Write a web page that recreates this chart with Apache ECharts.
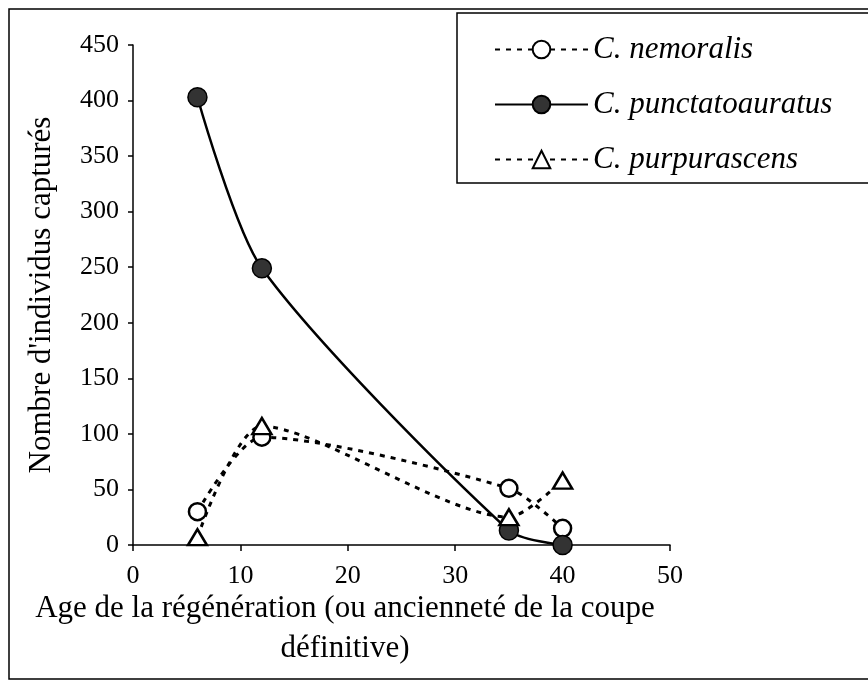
<!DOCTYPE html>
<html><head><meta charset="utf-8">
<script src="https://cdn.jsdelivr.net/npm/echarts@6/dist/echarts.min.js"></script>
<style>html,body{margin:0;padding:0;background:#fff}#c{width:868px;height:682px}</style>
</head><body><div id="c"></div>
<script>
var ages = [6, 12, 35, 40];
var nemoralis = [30, 97, 51, 15];
var punctatoauratus = [403, 249, 13, 0];
var purpurascens = [7, 107, 25, 58];
var seriesNames = ['C. nemoralis', 'C. punctatoauratus', 'C. purpurascens'];
var xTicks = [0, 10, 20, 30, 40, 50];
var yTicks = [0, 50, 100, 150, 200, 250, 300, 350, 400, 450];
var xTitle = ['Age de la régénération (ou ancienneté de la coupe', 'définitive)'];
var yTitle = "Nombre d'individus capturés";

function pairs(v){ return ages.map(function(a,i){ return [a, v[i]]; }); }
var font = 'Liberation Serif';
var chart = echarts.init(document.getElementById('c'), null, {renderer:'canvas'});
chart.setOption({
  animation:false,
  backgroundColor:'#fff',
  grid:{left:133, right:198, top:45, bottom:137},
  xAxis:{type:'value', min:0, max:50, interval:10,
    axisLine:{onZero:false, lineStyle:{color:'#000', width:1.5}},
    axisTick:{show:true, length:6, lineStyle:{color:'#000', width:1.5}},
    splitLine:{show:false},
    axisLabel:{color:'#000', fontFamily:font, fontSize:26, margin:18}},
  yAxis:{type:'value', min:0, max:450, interval:50,
    axisLine:{show:true, lineStyle:{color:'#000', width:1.5}},
    axisTick:{show:true, length:5, lineStyle:{color:'#000', width:1.5}},
    splitLine:{show:false},
    axisLabel:{color:'#000', fontFamily:font, fontSize:26, margin:14},
    name:yTitle, nameLocation:'middle', nameGap:76,
    nameTextStyle:{color:'#000', fontFamily:font, fontSize:31}},
  legend:{orient:'vertical', left:489, top:29, itemWidth:93, itemHeight:22, itemGap:24,
    textStyle:{color:'#000', fontFamily:font, fontStyle:'italic', fontSize:31},
    data:seriesNames},
  series:[
    {name:seriesNames[0], type:'line', smooth:0.25, data:pairs(nemoralis),
     symbol:'circle', symbolSize:17,
     itemStyle:{color:'#fff', borderColor:'#000', borderWidth:2.5},
     lineStyle:{color:'#000', width:3, type:[5,6]}},
    {name:seriesNames[1], type:'line', smooth:0.25, data:pairs(punctatoauratus),
     symbol:'circle', symbolSize:19, z:3,
     itemStyle:{color:'#333', borderColor:'#000', borderWidth:1.5},
     lineStyle:{color:'#000', width:2.5, type:'solid'}},
    {name:seriesNames[2], type:'line', smooth:0.25, data:pairs(purpurascens),
     symbol:'triangle', symbolSize:[19,16],
     itemStyle:{color:'#fff', borderColor:'#000', borderWidth:2.5},
     lineStyle:{color:'#000', width:3, type:[5,6]}}
  ],
  graphic:[
    {type:'rect', shape:{x:9, y:9, width:900, height:670}, style:{fill:'none', stroke:'#000', lineWidth:1.5}, z:-1},
    {type:'rect', shape:{x:457, y:13, width:430, height:170}, style:{fill:'#fff', stroke:'#000', lineWidth:1.5}, z:-1},
    {type:'text', style:{text:xTitle[0], fontFamily:font, fontSize:31, fill:'#000', textAlign:'center'}, position:[345, 593]},
    {type:'text', style:{text:xTitle[1], fontFamily:font, fontSize:31, fill:'#000', textAlign:'center'}, position:[345, 633]}
  ]
});
</script></body></html>
